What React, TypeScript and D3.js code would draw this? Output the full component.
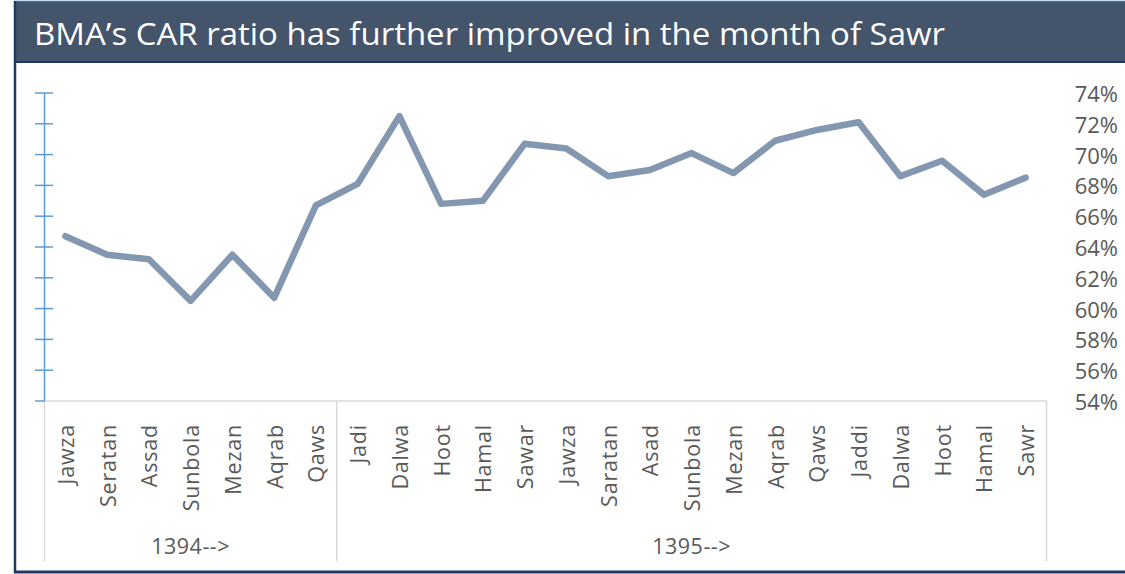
import React, { useRef, useEffect } from 'react';
import * as d3 from 'd3';

const chartTitle = "BMA’s CAR ratio has further improved in the month of Sawr";
const yearLabels = ["1394-->", "1395-->"];
const months1394 = ["Jawza", "Seratan", "Assad", "Sunbola", "Mezan", "Aqrab", "Qaws"];
const months1395 = ["Jadi", "Dalwa", "Hoot", "Hamal", "Sawar", "Jawza", "Saratan", "Asad", "Sunbola", "Mezan", "Aqrab", "Qaws", "Jaddi", "Dalwa", "Hoot", "Hamal", "Sawr"];
const carValues = [64.7, 63.5, 63.2, 60.5, 63.5, 60.7, 66.7, 68.1, 72.5, 66.8, 67.0, 70.7, 70.4, 68.6, 69.0, 70.1, 68.8, 70.9, 71.6, 72.1, 68.6, 69.6, 67.4, 68.5];
const yTicks = [54, 56, 58, 60, 62, 64, 66, 68, 70, 72, 74];

function App() {
  const svgRef = useRef<SVGSVGElement | null>(null);

  useEffect(() => {
    const W = 1125, H = 574;
    const svg = d3.select(svgRef.current).attr("width", W).attr("height", H);
    svg.selectAll("*").remove();

    const months = [...months1394, ...months1395];
    const font = "'Open Sans', sans-serif";

    // frame + title bar
    svg.append("rect").attr("x", 14).attr("y", 1).attr("width", W - 14).attr("height", 61)
      .attr("fill", "#44546A");
    svg.append("line").attr("x1", 14).attr("x2", W).attr("y1", 1.5).attr("y2", 1.5)
      .attr("stroke", "#2E75B6").attr("stroke-width", 1.5);
    svg.append("line").attr("x1", 14).attr("x2", W).attr("y1", 62).attr("y2", 62)
      .attr("stroke", "#1F3864").attr("stroke-width", 2);
    svg.append("line").attr("x1", 15).attr("x2", 15).attr("y1", 1).attr("y2", 573)
      .attr("stroke", "#1F3864").attr("stroke-width", 2.5);
    svg.append("line").attr("x1", 14).attr("x2", W).attr("y1", 572).attr("y2", 572)
      .attr("stroke", "#1F3864").attr("stroke-width", 3);

    svg.append("text").attr("x", 34).attr("y", 45)
      .attr("font-family", font).attr("font-size", 31).attr("fill", "#fff")
      .attr("textLength", 911).attr("lengthAdjust", "spacingAndGlyphs")
      .text(chartTitle);

    const x = d3.scaleBand<number>().domain(d3.range(months.length)).range([44.5, 1046.5]);
    const bw = x.bandwidth();
    const y = d3.scaleLinear().domain([54, 74]).range([401, 93]);

    // category axis
    const axisColor = "#D9D9D9";
    svg.append("line").attr("x1", 44.5).attr("x2", 1046.5).attr("y1", 401).attr("y2", 401)
      .attr("stroke", axisColor).attr("stroke-width", 1.5);
    const seps = [44.5, x(months1394.length) as number, 1046.5];
    svg.selectAll(".sep").data(seps).enter().append("line")
      .attr("x1", d => d).attr("x2", d => d).attr("y1", 401).attr("y2", 561)
      .attr("stroke", axisColor).attr("stroke-width", 1.5);

    svg.selectAll(".cat").data(months).enter().append("text")
      .attr("transform", (d, i) => `translate(${(x(i) as number) + bw / 2},424) rotate(-90)`)
      .attr("text-anchor", "end").attr("dominant-baseline", "central")
      .attr("font-family", font).attr("font-size", 21.5).attr("letter-spacing", 0.8)
      .attr("fill", "#595959").text(d => d);

    const groupCenters = [(seps[0] + seps[1]) / 2, (seps[1] + seps[2]) / 2];
    svg.selectAll(".grp").data(yearLabels).enter().append("text")
      .attr("x", (d, i) => groupCenters[i]).attr("y", 545)
      .attr("text-anchor", "middle").attr("dominant-baseline", "central")
      .attr("font-family", font).attr("font-size", 21.5).attr("letter-spacing", 0.5)
      .attr("fill", "#595959").text(d => d);

    // left value axis (ticks only, crossing)
    const leftAxis = "#5B9BD5";
    svg.append("line").attr("x1", 44.5).attr("x2", 44.5).attr("y1", y(74)).attr("y2", y(54))
      .attr("stroke", leftAxis).attr("stroke-width", 1.5);
    svg.selectAll(".ytick").data(yTicks).enter().append("line")
      .attr("x1", 35).attr("x2", d => d === 54 ? 44.5 : 53).attr("y1", d => y(d)).attr("y2", d => y(d))
      .attr("stroke", leftAxis).attr("stroke-width", 1.5);

    // right labels
    svg.selectAll(".ylab").data(yTicks).enter().append("text")
      .attr("x", 1118).attr("y", d => y(d))
      .attr("text-anchor", "end").attr("dominant-baseline", "central")
      .attr("font-family", font).attr("font-size", 22).attr("fill", "#595959")
      .text(d => d + "%");

    // CAR line
    const line = d3.line<number>()
      .x((d, i) => (x(i) as number) + bw / 2)
      .y(d => y(d));
    svg.append("path").datum(carValues)
      .attr("fill", "none").attr("stroke", "#8497B0").attr("stroke-width", 6.5)
      .attr("stroke-linejoin", "round").attr("stroke-linecap", "round")
      .attr("d", line);
  }, []);

  return (
    <svg ref={svgRef} style={{ position: 'absolute', left: 0, top: 0, background: '#fff' }}></svg>
  );
}

export default App;
